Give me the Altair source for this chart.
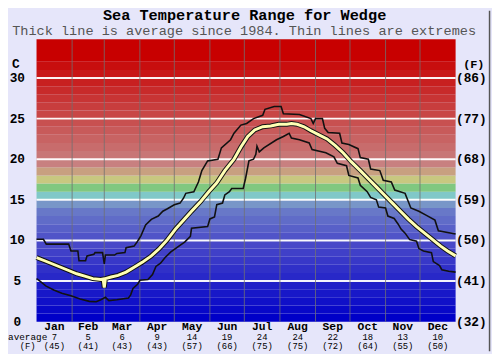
import altair as alt
import pandas as pd

# ---------------- data ----------------
months = ["Jan", "Feb", "Mar", "Apr", "May", "Jun", "Jul", "Aug", "Sep", "Oct", "Nov", "Dec"]
month_avg_c = [7, 5, 6, 9, 14, 19, 24, 24, 22, 18, 13, 10]
month_avg_f = [45, 41, 43, 43, 57, 66, 75, 75, 72, 64, 55, 50]
month_starts = [0, 31, 59, 90, 120, 151, 181, 212, 243, 273, 304, 334, 365]

y_ticks_c = [0, 5, 10, 15, 20, 25, 30]
y_ticks_f = [32, 41, 50, 59, 68, 77, 86]

avg_days = [0, 7, 14, 21, 28, 35, 42, 49, 56, 58, 59, 60, 65, 71, 78, 85, 92, 100, 107, 114,
            121, 128, 135, 143, 150, 157, 164, 172, 178, 184, 190, 197, 204, 211, 218, 222,
            227, 233, 239, 246, 253, 260, 267, 274, 282, 289, 296, 303, 310, 317, 324, 331,
            338, 345, 352, 358, 365]
avg_temp = [7.9, 7.5, 7.1, 6.7, 6.3, 5.9, 5.6, 5.3, 5.2, 5.25, 4.2, 5.3, 5.5, 5.7, 6.1, 6.7,
            7.3, 8.1, 9.0, 10.1, 11.4, 12.5, 13.6, 14.8, 16.0, 17.1, 18.6, 20.0, 21.5, 22.8,
            23.6, 24.0, 24.1, 24.3, 24.3, 24.4, 24.3, 24.0, 23.5, 23.0, 22.5, 21.7, 20.8,
            19.7, 18.6, 17.6, 16.6, 15.6, 14.6, 13.6, 12.6, 11.7, 10.9, 10.1, 9.3, 8.7, 8.1]

max_days = [0, 6, 8.5, 28, 30, 36, 37, 42.7, 44, 50, 51, 57.5, 59, 60, 68, 70, 77, 78, 85, 88,
            91, 95, 100, 106, 110, 114, 120, 125, 128, 130, 137, 141, 144, 149, 158, 161, 169,
            172, 178, 183, 189, 197, 199, 207, 213, 215, 229, 239, 241, 243, 249, 251, 254,
            264, 266, 272, 280, 282, 289, 291, 299, 302, 309, 312, 321, 326, 333, 340, 347,
            350, 365]
max_temp = [10.15, 10.15, 9.55, 9.55, 8.7, 8.7, 7.5, 7.5, 8.1, 8.3, 8.5, 8.5, 7.1, 8.2, 8.2,
            8.4, 8.5, 9.1, 9.3, 9.9, 10.6, 11.9, 12.6, 13.0, 13.6, 13.9, 14.4, 14.6, 15.2,
            15.8, 16.0, 17.2, 18.6, 19.8, 20.0, 21.4, 22.4, 23.2, 24.2, 24.4, 25.0, 25.4,
            26.15, 26.5, 26.5, 25.6, 25.5, 25.0, 24.4, 25.0, 25.0, 23.8, 23.3, 23.2, 22.0,
            21.8, 21.3, 20.2, 20.0, 18.8, 18.6, 17.4, 17.2, 16.2, 15.8, 14.0, 13.6, 13.06,
            12.5, 11.2, 10.8]

min_days = [0, 3, 8, 15, 22, 30, 38, 46, 52, 56, 60, 63, 70, 80, 82, 84, 88, 90, 97, 101,
            104, 108, 112, 117, 121, 124, 129, 134, 135, 149, 151, 155, 157, 162, 164, 168,
            170, 180, 182, 185, 189, 191, 192, 194, 198, 209, 215, 220, 222, 229, 237.5, 240,
            252, 259, 262, 270, 272, 280, 282, 288, 291, 296, 298, 304, 306, 311.5, 315,
            317.5, 321, 325, 331, 333, 337, 344, 345.6, 351, 353, 359, 365]
min_temp = [5.3, 5.0, 4.4, 3.9, 3.5, 3.2, 2.8, 2.5, 2.45, 2.7, 3.0, 2.6, 2.7, 2.9, 3.3, 4.1,
            4.6, 5.1, 5.2, 5.8, 6.8, 7.2, 7.9, 8.6, 9.0, 9.3, 9.8, 10.5, 11.5, 11.7, 12.65,
            12.9, 14.4, 14.6, 15.6, 16.0, 16.4, 16.4, 17.6, 19.8, 20.0, 20.6, 21.6, 20.9,
            21.4, 22.4, 22.8, 23.2, 22.6, 22.4, 22.0, 21.2, 20.8, 20.3, 19.5, 19.2, 18.0,
            17.7, 16.8, 16.0, 15.3, 15.0, 14.1, 14.0, 13.0, 12.7, 12.0, 11.4, 10.9, 10.1,
            9.9, 9.0, 8.7, 8.5, 7.4, 6.9, 6.4, 6.2, 6.1]

# colour bands, one per degree (0-1, 1-2, ... 31-32, 32-top)
band_colors = (
    ["#%02x%02xc8" % (8 * i, 8 * i) for i in range(10)]
    + ["#5054c8", "#5860c8", "#606cc8", "#6878c8", "#7896c8"]
    + ["#80c8c8", "#80c880", "#c8c880", "#c8a080", "#c88080"]
    + ["#c8%02x%02x" % (round(118 - (i - 20) * 9.5), round(118 - (i - 20) * 9.5)) for i in range(20, 32)]
    + ["#c80000"]
)
Y_TOP = 34.76

# ---------------- layout ----------------
W, H = 426, 287
FONT = "Liberation Mono"

xs = alt.Scale(domain=[0, 365], nice=False, zero=False)
ys = alt.Scale(domain=[0, Y_TOP], nice=False, zero=False)

band_df = pd.DataFrame({
    "lo": list(range(len(band_colors))),
    "hi": [min(i + 1, Y_TOP) if i < len(band_colors) - 1 else Y_TOP for i in range(len(band_colors))],
    "color": band_colors,
})

bands = alt.Chart(band_df).mark_rect(strokeWidth=0).encode(
    x=alt.value(0), x2=alt.value(W),
    y=alt.Y("lo:Q", scale=ys, axis=None), y2="hi:Q",
    color=alt.Color("color:N", scale=None),
)

hgrid = alt.Chart(pd.DataFrame({"t": y_ticks_c[1:]})).mark_rule(
    color="white", strokeWidth=2, opacity=0.95
).encode(y=alt.Y("t:Q", scale=ys, axis=None), x=alt.value(0), x2=alt.value(W))

vgrid = alt.Chart(pd.DataFrame({"d": month_starts[1:-1]})).mark_rule(
    color="#707070", strokeWidth=1, opacity=0.8
).encode(x=alt.X("d:Q", scale=xs, axis=None), y=alt.value(0), y2=alt.value(H))


def series(days, temps):
    return pd.DataFrame({"day": days, "t": temps, "i": list(range(len(days)))})


def line_layer(df, **kw):
    return alt.Chart(df).mark_line(**kw).encode(
        x=alt.X("day:Q", scale=xs, axis=None),
        y=alt.Y("t:Q", scale=ys, axis=None),
        order="i:Q",
    )


max_line = line_layer(series(max_days, max_temp), color="#111111", strokeWidth=1.6)
min_line = line_layer(series(min_days, min_temp), color="#111111", strokeWidth=1.6)
avg_outline = line_layer(series(avg_days, avg_temp), color="#111111", strokeWidth=5)
avg_core = line_layer(series(avg_days, avg_temp), color="#ffffb4", strokeWidth=3)

# axis labels
left_df = pd.DataFrame({"c": y_ticks_c, "lab": [str(v) for v in y_ticks_c]})
left_labels = alt.Chart(left_df).mark_text(
    font=FONT, fontWeight="bold", fontSize=13, align="center", baseline="middle", color="black"
).encode(x=alt.value(-19.5), y=alt.Y("c:Q", scale=ys, axis=None), text="lab:N")

right_df = pd.DataFrame({"c": y_ticks_c, "lab": ["(%d)" % v for v in y_ticks_f]})
right_labels = alt.Chart(right_df).mark_text(
    font=FONT, fontWeight="bold", fontSize=13, align="center", baseline="middle", color="black"
).encode(x=alt.value(W + 16), y=alt.Y("c:Q", scale=ys, axis=None), text="lab:N")

one = pd.DataFrame({"k": [0]})


def fixed_text(txt, x, y, size, weight="normal", color="black", align="center", baseline="alphabetic"):
    return alt.Chart(one).mark_text(
        text=txt, font=FONT, fontSize=size, fontWeight=weight, color=color,
        align=align, baseline=baseline,
    ).encode(x=alt.value(x), y=alt.value(y))


unit_c = fixed_text("C", -21, 25, 13, "bold", baseline="middle")
unit_f = fixed_text("(F)", W + 18.5, 25, 12, "bold", baseline="middle")
title = fixed_text("Sea Temperature Range for Wedge", 211.5, -20, 15.5, "bold")
subtitle = fixed_text("Thick line is average since 1984. Thin lines are extremes", 211, -4, 13.8,
                      color="#555555")
avg_word = fixed_text("average", -9, H + 18.5, 9.5)
f_word = fixed_text("(F)", -9, H + 27.5, 9)

mdf = pd.DataFrame({
    "mid": [(month_starts[i] + month_starts[i + 1]) / 2 for i in range(12)],
    "name": months,
    "c": [str(v) for v in month_avg_c],
    "f": ["(%d)" % v for v in month_avg_f],
})


def month_row(field, y, size, weight="normal"):
    return alt.Chart(mdf).mark_text(
        font=FONT, fontSize=size, fontWeight=weight, color="black", align="center", baseline="alphabetic"
    ).encode(x=alt.X("mid:Q", scale=xs, axis=None), y=alt.value(y), text=f"{field}:N")


row_names = month_row("name", H + 8.5, 11.5, "bold")
row_c = month_row("c", H + 18.5, 9)
row_f = month_row("f", H + 27.5, 9)

border = alt.Chart(one).mark_rule(color="#555555", strokeWidth=1.5).encode(
    x=alt.value(W + 34.5), y=alt.value(-29), y2=alt.value(H + 30)
)

chart = alt.layer(
    bands, hgrid, vgrid, max_line, min_line, avg_outline, avg_core,
    left_labels, right_labels, unit_c, unit_f, title, subtitle,
    avg_word, f_word, row_names, row_c, row_f, border,
).properties(
    width=W, height=H,
    background="#e6e6fa",
    padding={"left": 29, "top": 29, "right": 37, "bottom": 30},
    autosize=alt.AutoSizeParams(type="none"),
).configure_view(stroke=None)

chart.save("out.html", embed_options={"renderer": "svg", "actions": False})
